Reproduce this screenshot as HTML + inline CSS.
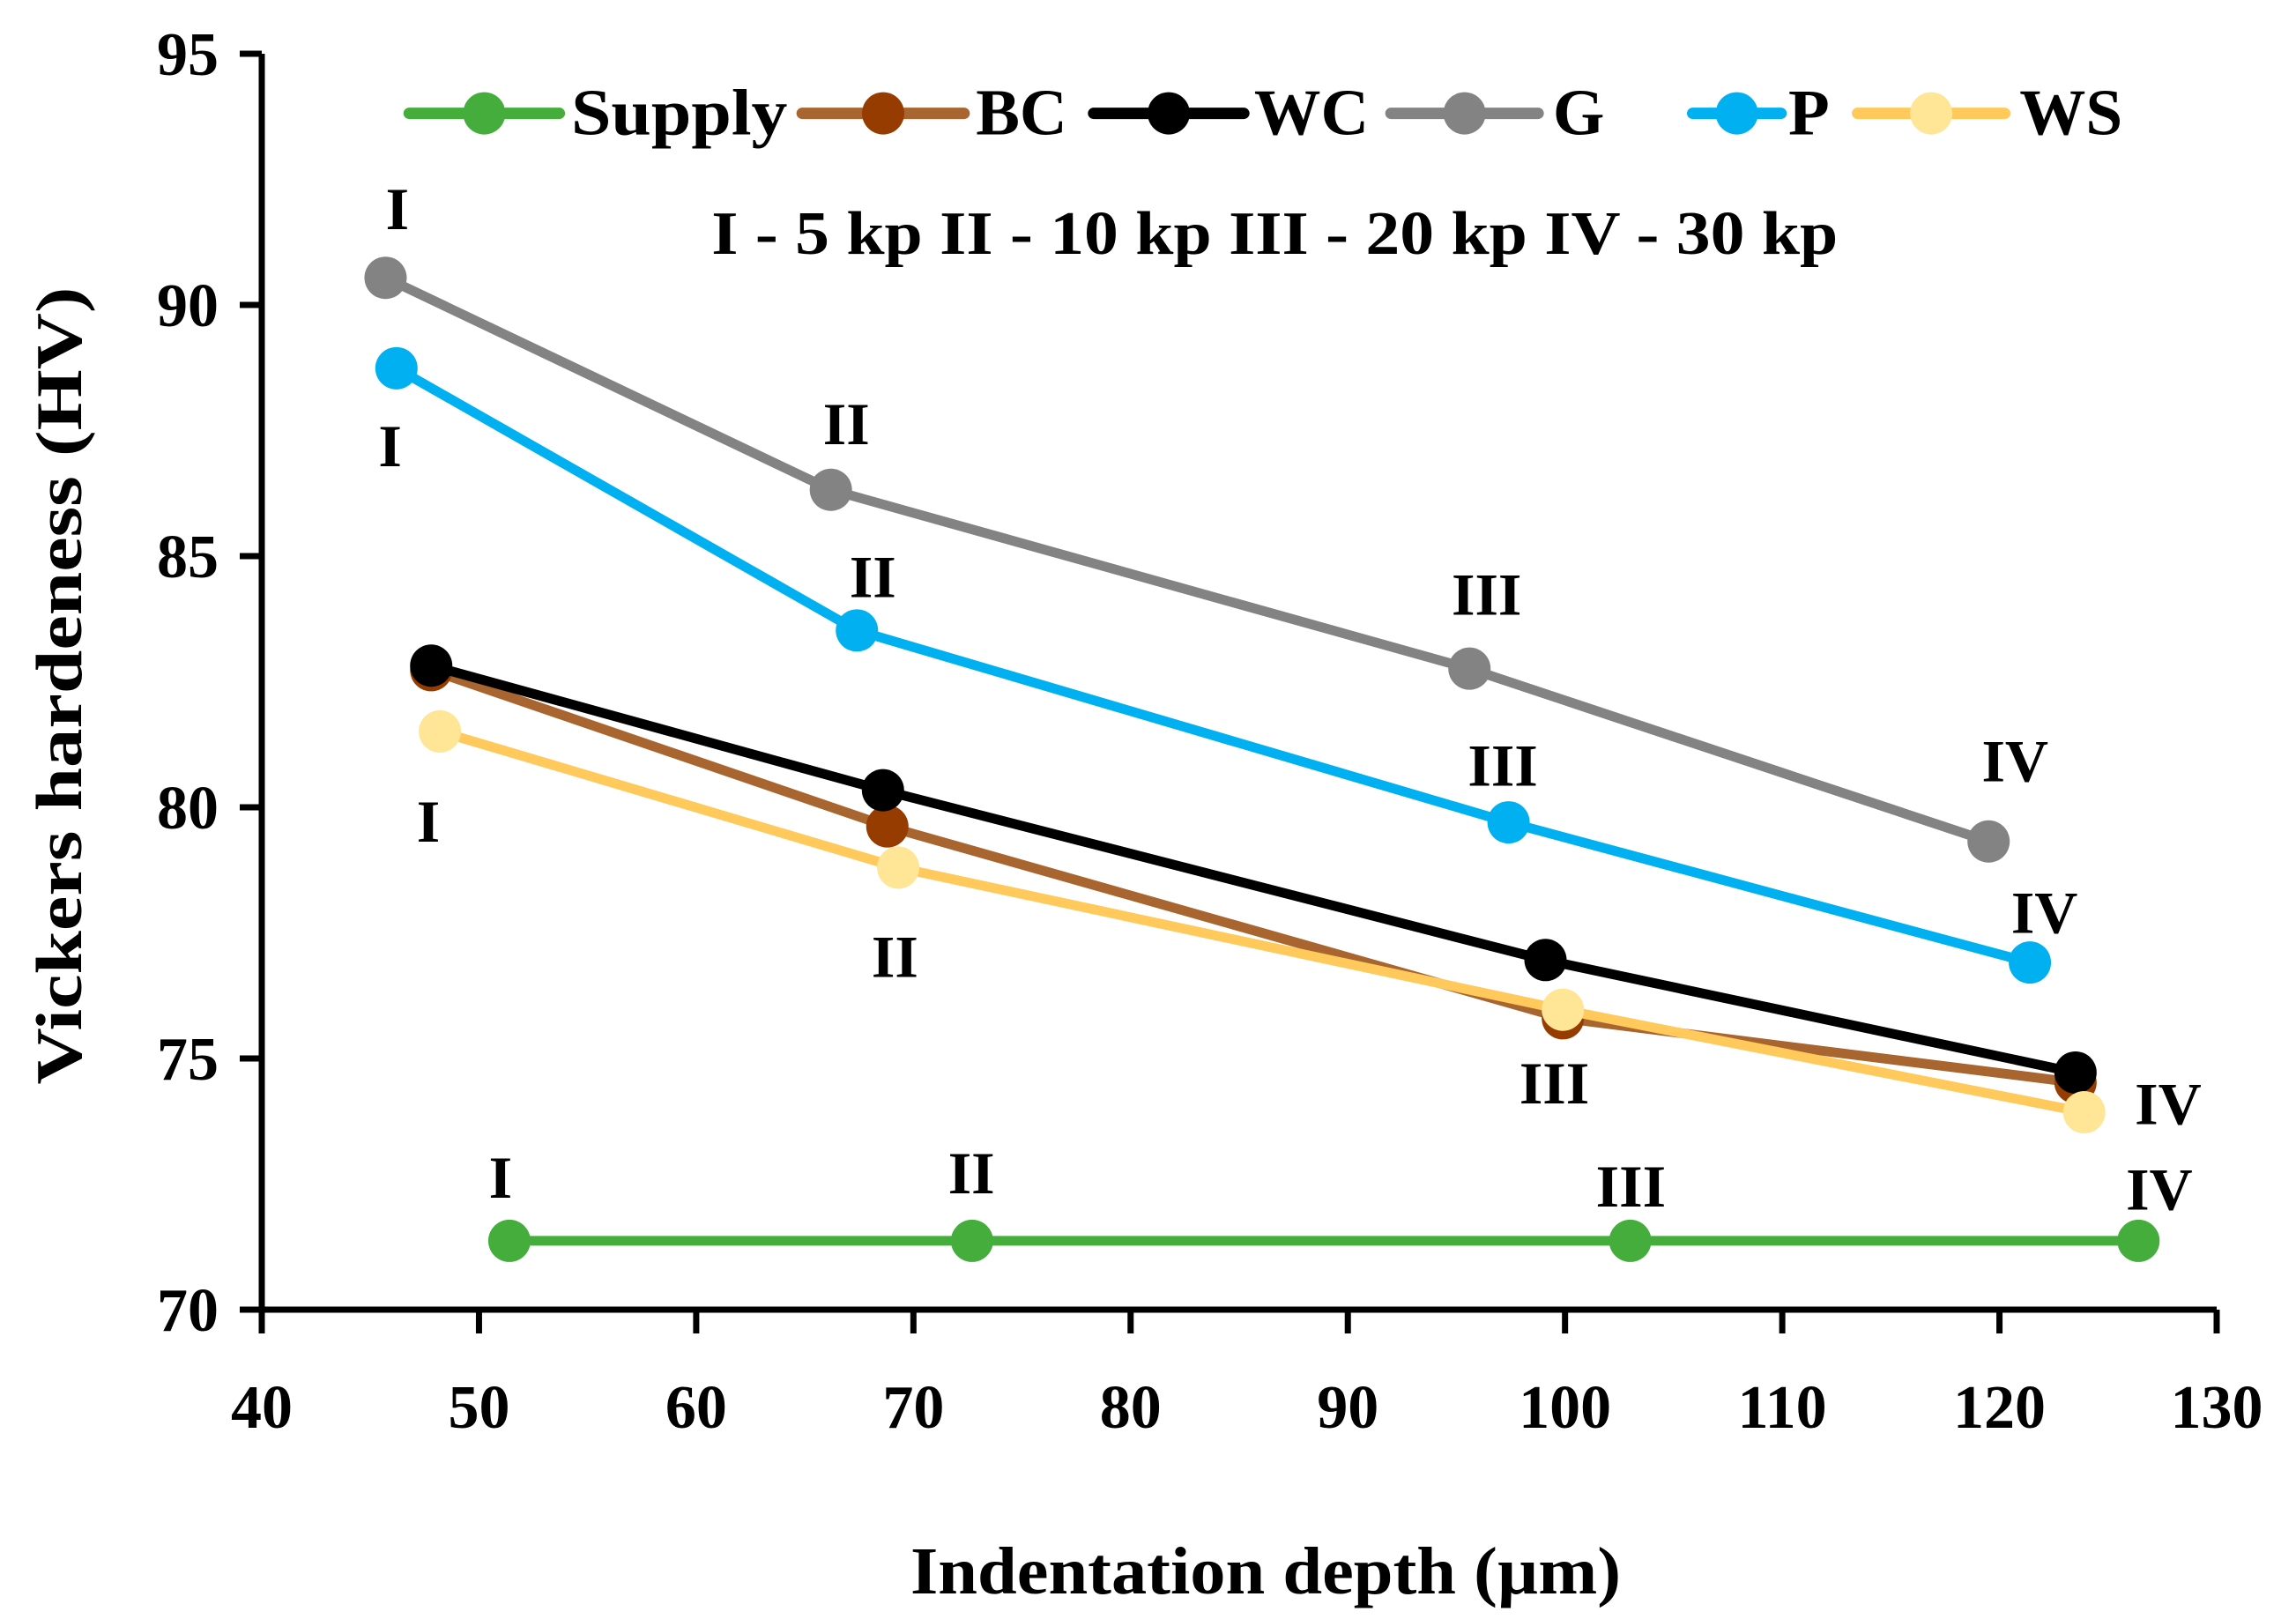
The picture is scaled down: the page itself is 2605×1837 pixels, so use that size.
<!DOCTYPE html>
<html><head><meta charset="utf-8"><style>
html,body{margin:0;padding:0;background:#fff}
svg{display:block}
text{font-family:"Liberation Serif",serif;font-weight:bold;fill:#000}
</style></head><body>
<svg id="chart" width="2605" height="1837" viewBox="0 0 2605 1837" xmlns="http://www.w3.org/2000/svg">
</svg>
<script>
const xTicks=[40,50,60,70,80,90,100,110,120,130];
const yTicks=[70,75,80,85,90,95];
const seriesNames=["Supply","BC","WC","G","P","WS"];
const supplyX=[51.4,72.7,103.0,126.4];
const supplyY=[71.37,71.37,71.37,71.37];
const bcX=[47.8,68.8,99.9,123.5];
const bcY=[82.73,79.62,75.80,74.52];
const wcX=[47.8,68.6,99.1,123.5];
const wcY=[82.82,80.34,76.96,74.72];
const gX=[45.7,66.2,95.6,119.5];
const gY=[90.54,86.32,82.76,79.32];
const pX=[46.2,67.4,97.4,121.4];
const pY=[88.74,83.52,79.70,76.91];
const wsX=[48.2,69.3,99.9,123.9];
const wsY=[81.51,78.80,75.97,73.93];

const svg=document.getElementById('chart');
const NS="http://www.w3.org/2000/svg";
const X0=297,X1=2515,Y0=1486,Y1=61;
function xs(v){return X0+(v-40)/(130-40)*(X1-X0);}
function ys(v){return Y0-(v-70)/(95-70)*(Y0-Y1);}
function mk(tag,attrs,parent){const e=document.createElementNS(NS,tag);for(const k in attrs)e.setAttribute(k,attrs[k]);(parent||svg).appendChild(e);return e;}

let ax=mk('path',{d:`M${X0},${Y1} V${Y0} H${X1}`,stroke:'#000','stroke-width':7,fill:'none'});


xTicks.forEach(t=>{
  let l=mk('line',{x1:xs(t),x2:xs(t),y1:Y0,y2:Y0+27,stroke:'#000','stroke-width':7});
  
  
  let tx=mk('text',{x:xs(t),y:1620,'text-anchor':'middle','font-size':70});
  tx.textContent=t;
  
  
});
yTicks.forEach(t=>{
  let l=mk('line',{x1:X0-25,x2:X0,y1:ys(t),y2:ys(t),stroke:'#000','stroke-width':7});
  
  
  let tx=mk('text',{x:213,y:ys(t)+24,'text-anchor':'middle','font-size':70});
  tx.textContent=t;
  
  
});
let yt=mk('text',{x:0,y:0,'text-anchor':'middle','font-size':74,textLength:905,lengthAdjust:'spacingAndGlyphs',transform:`translate(92,778) rotate(-90)`});
yt.textContent='Vickers hardeness (HV)';


let xt=mk('text',{x:1436,y:1808,'text-anchor':'middle','font-size':76,textLength:806,lengthAdjust:'spacingAndGlyphs'});
xt.textContent='Indentation depth (µm)';



const series=[
 {xv:supplyX,yv:supplyY,line:'#44ad3c',mark:'#44ad3c'},
 {xv:bcX,yv:bcY,line:'#a9652f',mark:'#963c00'},
 {xv:wcX,yv:wcY,line:'#000',mark:'#000'},
 {xv:gX,yv:gY,line:'#838383',mark:'#838383'},
 {xv:pX,yv:pY,line:'#00b0f0',mark:'#00b0f0'},
 {xv:wsX,yv:wsY,line:'#ffc95c',mark:'#ffe596'}
];
[0,3,4,1,2,5].forEach(i=>{
  const s=series[i];
  let d=s.xv.map((v,j)=>(j?'L':'M')+xs(v)+','+ys(s.yv[j])).join(' ');
  let p=mk('path',{d:d,stroke:s.line,'stroke-width':11,fill:'none','stroke-linejoin':'round'});
  
  
  s.xv.forEach((v,j)=>{
    let c=mk('circle',{cx:xs(v),cy:ys(s.yv[j]),r:24,fill:s.mark});
    
    
  });
});

const S=1.67;
const ann=[["I",270,142],["I",265,303],["II",575,288],["II",593,392],["III",1010,404],["III",1021,520],["IV",1369,517],["IV",1389,620],["I",291,558],["II",608,650],["III",1056,736],["IV",1473,750],["I",340,800],["II",660,797],["III",1108,806],["IV",1467,808]];
ann.forEach(a=>{
  let t=mk('text',{x:a[1]*S,y:a[2]*S+23,'text-anchor':'middle','font-size':68});
  t.textContent=a[0];
  
  
});
let note=mk('text',{x:866*S,y:158*S+24,'text-anchor':'middle','font-size':70,textLength:1278,lengthAdjust:'spacingAndGlyphs'});
note.textContent='I - 5 kp II - 10 kp III - 20 kp IV - 30 kp';



const leg=[[278,380,388,147],[545,655,663,62],[743,845,852,78],[945,1045,1055,35],[1150,1210,1215,28],[1262,1362,1372,70]];
const LY=77*S;
leg.forEach((L,i)=>{
  const s=series[i];
  let g=mk('g',{});
  
  
  mk('line',{x1:L[0]*S,x2:L[1]*S,y1:LY,y2:LY,stroke:s.line,'stroke-width':13,'stroke-linecap':'round'},g);
  mk('circle',{cx:(L[0]+L[1])/2*S,cy:LY,r:24,fill:s.mark},g);
  let t=mk('text',{x:L[2]*S,y:LY+24,'font-size':74,textLength:L[3]*S,lengthAdjust:'spacingAndGlyphs'},g);
  t.textContent=seriesNames[i];
});
</script>
</body></html>
